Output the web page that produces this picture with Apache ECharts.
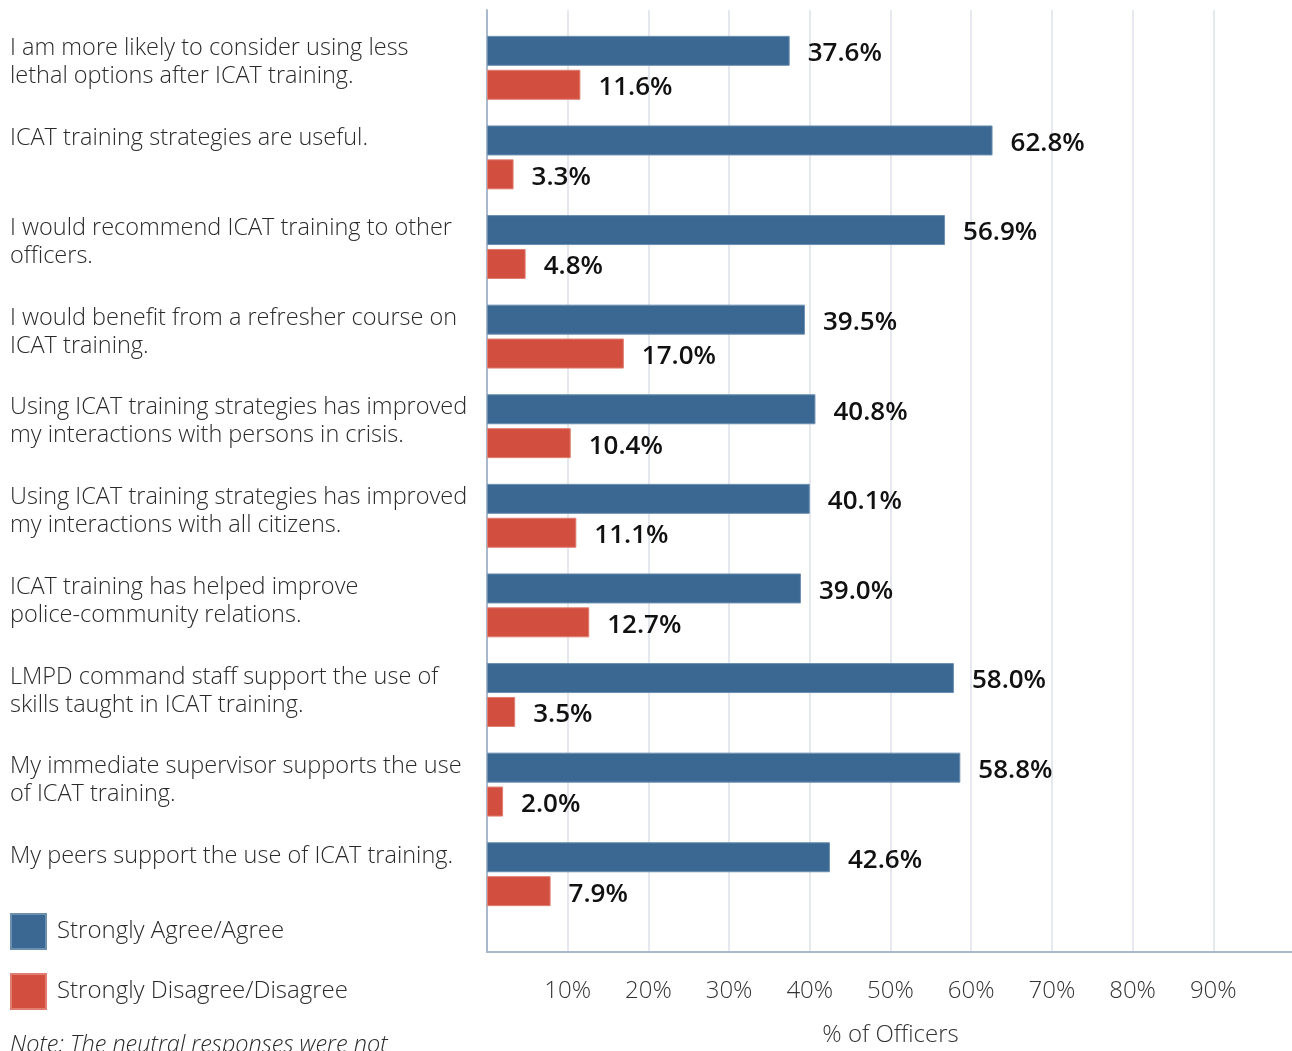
<!DOCTYPE html>
<html>
<head>
<meta charset="utf-8">
<script src="https://cdn.jsdelivr.net/npm/echarts@6/dist/echarts.min.js"></script>
<style>
  html, body { margin: 0; padding: 0; background: #fff; }
  #chart { width: 1292px; height: 1051px; }
</style>
</head>
<body>
<div id="chart"></div>
<script>
// statements, top to bottom
const categories = [
  "I am more likely to consider using less\nlethal options after ICAT training.",
  "ICAT training strategies are useful.",
  "I would recommend ICAT training to other\nofficers.",
  "I would benefit from a refresher course on\nICAT training.",
  "Using ICAT training strategies has improved\nmy interactions with persons in crisis.",
  "Using ICAT training strategies has improved\nmy interactions with all citizens.",
  "ICAT training has helped improve\npolice-community relations.",
  "LMPD command staff support the use of\nskills taught in ICAT training.",
  "My immediate supervisor supports the use\nof ICAT training.",
  "My peers support the use of ICAT training."
];
const agree = [37.6, 62.8, 56.9, 39.5, 40.8, 40.1, 39.0, 58.0, 58.8, 42.6];
const disagree = [11.6, 3.3, 4.8, 17.0, 10.4, 11.1, 12.7, 3.5, 2.0, 7.9];
const seriesNames = ["Strongly Agree/Agree", "Strongly Disagree/Disagree"];
const noteText = "Note: The neutral responses were not";

const FONT = "'Open Sans', 'Noto Sans', sans-serif";
const BLUE = "#3a6893";
const RED = "#d24f3f";

var myChart = echarts.init(document.getElementById("chart"));

const valueLabel = {
  show: true,
  position: "right",
  distance: 18,
  offset: [0, 3],
  fontFamily: FONT,
  fontSize: 26,
  fontWeight: 600,
  color: "#111",
  formatter(p) {
    return p.value.toFixed(1) + "%";
  },
};

myChart.setOption({
  animation: false,
  textStyle: { fontFamily: FONT },
  grid: [
    // frame: gridlines, axis lines, x labels
    { left: 487, right: -2, top: 10, bottom: 99, outerBoundsMode: "none" },
    // bars
    { left: 487, right: -2, top: 23, height: 896 },
    // category labels, one per tick, sitting above each bar pair
    { left: 487, right: -2, top: 34.5, height: 808 },
  ],
  xAxis: [
    {
      gridIndex: 0,
      type: "value",
      min: 0,
      max: 100,
      interval: 10,
      name: "% of Officers",
      nameLocation: "middle",
      nameGap: 71,
      nameTextStyle: { fontFamily: FONT, fontSize: 24, fontWeight: 300, color: "#333" },
      axisLine: { show: true, lineStyle: { color: "#a9b8cb", width: 2 } },
      axisTick: { show: false },
      axisLabel: {
        showMinLabel: false,
        showMaxLabel: false,
        margin: 27,
        fontFamily: FONT,
        fontSize: 24,
        fontWeight: 300,
        color: "#333",
        formatter: "{value}%",
      },
      splitLine: { show: true, lineStyle: { color: "#dde1e8", width: 1.5 } },
    },
    { gridIndex: 1, type: "value", min: 0, max: 100, show: false },
    { gridIndex: 2, type: "value", min: 0, max: 100, show: false },
  ],
  yAxis: [
    {
      gridIndex: 0,
      type: "value",
      min: 0,
      max: 1,
      axisLine: { show: true, lineStyle: { color: "#a9b8cb", width: 2 } },
      axisTick: { show: false },
      axisLabel: { show: false },
      splitLine: { show: false },
    },
    {
      gridIndex: 1,
      type: "category",
      inverse: true,
      data: categories,
      axisLine: { show: false },
      axisTick: { show: false },
      axisLabel: { show: false },
    },
    {
      gridIndex: 2,
      type: "category",
      inverse: true,
      boundaryGap: false,
      data: categories,
      axisLine: { show: false },
      axisTick: { show: false },
      axisLabel: {
        interval: 0,
        align: "left",
        verticalAlign: "top",
        margin: 477,
        lineHeight: 28,
        fontFamily: FONT,
        fontSize: 23.5,
        fontWeight: 300,
        color: "#2a2a2a",
      },
    },
  ],
  legend: {
    orient: "vertical",
    left: 10,
    top: 913,
    padding: 0,
    itemWidth: 35,
    itemHeight: 35,
    itemGap: 23,
    icon: "rect",
    selectedMode: false,
    textStyle: { fontFamily: FONT, fontSize: 24, fontWeight: 300, color: "#2a2a2a", padding: [0, 0, 0, 6] },
    data: seriesNames,
  },
  graphic: [
    {
      type: "text",
      left: 10,
      top: 1034,
      style: {
        text: noteText,
        font: "italic 300 23.5px " + FONT,
        fill: "#2a2a2a",
      },
    },
  ],
  series: [
    {
      name: seriesNames[0],
      type: "bar",
      xAxisIndex: 1,
      yAxisIndex: 1,
      data: agree,
      barWidth: 30,
      barGap: "13%",
      itemStyle: { color: BLUE, borderColor: "#6d8fb0", borderWidth: 1 },
      label: valueLabel,
    },
    {
      name: seriesNames[1],
      type: "bar",
      xAxisIndex: 1,
      yAxisIndex: 1,
      data: disagree,
      barWidth: 30,
      itemStyle: { color: RED, borderColor: "#e07e71", borderWidth: 1 },
      label: valueLabel,
    },
  ],
});
</script>
</body>
</html>
